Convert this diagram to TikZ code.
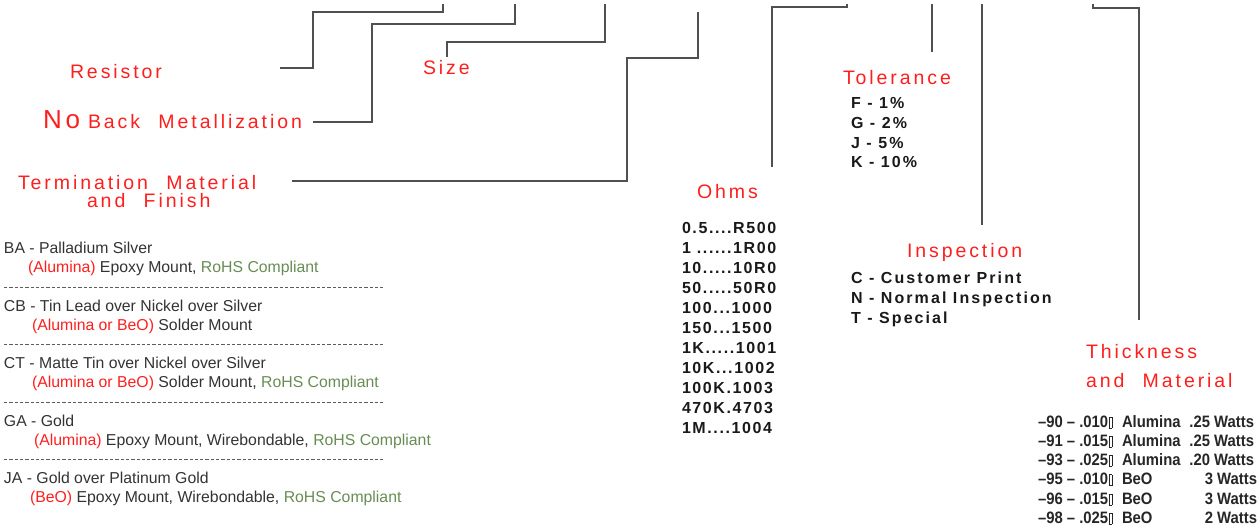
\documentclass[tikz,border=0pt]{standalone}
\usepackage{fontspec}
\setmainfont{Liberation Sans}
\newfontfamily\cadfont[LetterSpace=15, WordSpace=2.2]{Liberation Sans}
\newfontfamily\codefont[LetterSpace=10]{Liberation Sans}
\newfontfamily\widecodefont[LetterSpace=13]{Liberation Sans}
\newfontfamily\narrowfont[FakeStretch=0.9]{Liberation Sans}
\usetikzlibrary{positioning}

\definecolor{labelred}{RGB}{255,30,30}
\definecolor{rohsgreen}{RGB}{104,140,84}
\definecolor{bodygray}{RGB}{51,51,51}
\definecolor{leadgray}{RGB}{80,80,80}
\newcommand{\subst}[1]{\textcolor{labelred}{#1}}
\newcommand{\rohs}{\textcolor{rohsgreen}{RoHS Compliant}}
\newcommand{\nobox}{\kern0.6pt{\fboxsep=0pt\fboxrule=0.5pt\fbox{\rule{2.6pt}{0pt}\rule[-0.5pt]{0pt}{10.5pt}}}}

\begin{document}
\begin{tikzpicture}[
        x=1pt,
        y=-1pt,
        every node/.style={inner sep=0pt, outer sep=0pt, anchor=base west},
        caption/.style={font=\cadfont\fontsize{19.5}{19.5}\selectfont, text=labelred},
        finish/.style={font=\fontsize{15.8}{15.8}\selectfont, text=bodygray},
        code/.style={font=\codefont\bfseries\fontsize{16}{16}\selectfont, text=black!90},
        widecode/.style={font=\widecodefont\bfseries\fontsize{16}{16}\selectfont, text=black!90},
        thickcode/.style={font=\narrowfont\bfseries\fontsize{16.5}{16.5}\selectfont, text=black!85},
        lead/.style={draw=leadgray, line width=1.3pt},
        divider/.style={draw=bodygray!80, dash pattern=on 3.3pt off 2pt, line width=0.9pt}
    ]
    \useasboundingbox (0,0) rectangle (1260,525);

    % red captions
    \node[caption] (resistor) at (70,78) {Resistor};
    \node[caption, font=\cadfont\fontsize{26}{26}\selectfont] (no) at (43,128) {No};
    \node[caption] (backmetal) at (88,128) {Back Metallization};
    \node[caption] (size) at (423,74) {Size};
    \node[caption] (term) at (18,189) {Termination Material};
    \node[caption] (termb) at (87,207) {and Finish};
    \node[caption] (ohms) at (697,198) {Ohms};
    \node[caption] (tol) at (843,84) {Tolerance};
    \node[caption] (insp) at (907,257) {Inspection};
    \node[caption] (thick) at (1086,358) {Thickness};
    \node[caption] (thickb) at (1086,387) {and Material};

    % leader lines
    \coordinate (resFoot) at (280,68);   \coordinate (resTop) at (443,4);
    \coordinate (nbmFoot) at (313,122);  \coordinate (nbmTop) at (515,4);
    \coordinate (sizeFoot) at (447,57);  \coordinate (sizeTop) at (605,4);
    \coordinate (termFoot) at (292,181); \coordinate (termTop) at (698,12);
    \coordinate (ohmsFoot) at (772,167); \coordinate (ohmsTop) at (847,4);
    \coordinate (tolFoot) at (932,52);   \coordinate (tolTop) at (932,4);
    \coordinate (inspFoot) at (982,225); \coordinate (inspTop) at (982,4);
    \coordinate (thFoot) at (1139,320);  \coordinate (thTop) at (1093,4);

    \draw[lead] (resFoot) -| (313,12) -| (resTop);
    \draw[lead] (nbmFoot) -| (372,24) -| (nbmTop);
    \draw[lead] (sizeFoot) |- (605,42) -- (sizeTop);
    \draw[lead] (termFoot) -| (627,58) -| (termTop);
    \draw[lead] (ohmsFoot) |- (847,7) -- (ohmsTop);
    \draw[lead] (tolFoot) -- (tolTop);
    \draw[lead] (inspFoot) -- (inspTop);
    \draw[lead] (thFoot) |- (1093,8) -- (thTop);

    % termination finishes
    \node[finish] (ba) at (4,253) {BA - Palladium Silver};
    \node[finish] (baMount) at (28,272) {\subst{(Alumina)} Epoxy Mount, \rohs};
    \draw[divider] (4,287) -- (383,287);
    \node[finish] (cb) at (4,311) {CB - Tin Lead over Nickel over Silver};
    \node[finish] (cbMount) at (32,330) {\subst{(Alumina or BeO)} Solder Mount};
    \draw[divider] (4,344) -- (383,344);
    \node[finish] (ct) at (4,368) {CT - Matte Tin over Nickel over Silver};
    \node[finish] (ctMount) at (32,387) {\subst{(Alumina or BeO)} Solder Mount, \rohs};
    \draw[divider] (4,402) -- (383,402);
    \node[finish] (ga) at (4,426) {GA - Gold};
    \node[finish] (gaMount) at (34,445) {\subst{(Alumina)} Epoxy Mount, Wirebondable, \rohs};
    \draw[divider] (4,459) -- (383,459);
    \node[finish] (ja) at (4,483) {JA - Gold over Platinum Gold};
    \node[finish] (jaMount) at (30,502) {\subst{(BeO)} Epoxy Mount, Wirebondable, \rohs};

    % ohms codes
    \node[code] (ohm1) at (682,233) {0.5....R500};
    \node[code] (ohm2) at (682,253) {1 ......1R00};
    \node[code] (ohm3) at (682,273) {10.....10R0};
    \node[code] (ohm4) at (682,293) {50.....50R0};
    \node[code] (ohm5) at (682,313) {100...1000};
    \node[code] (ohm6) at (682,333) {150...1500};
    \node[code] (ohm7) at (682,353) {1K.....1001};
    \node[code] (ohm8) at (682,373) {10K...1002};
    \node[code] (ohm9) at (682,393) {100K.1003};
    \node[code] (ohm10) at (682,413) {470K.4703};
    \node[code] (ohm11) at (682,433) {1M....1004};

    % tolerance, inspection codes
    \foreach \val [count=\i] in {F - 1\%, G - 2\%, J - 5\%, K - 10\%}
        \node[widecode] (tol\i) at (851,89+19.7*\i) {\val};
    \foreach \val [count=\i] in {C - Customer Print, N - Normal Inspection, T - Special}
        \node[widecode] (insp\i) at (851,263+20*\i) {\val};

    % thickness and material
    \foreach \dash/\thk/\mat/\watt/\wx [count=\i] in {90/.010/Alumina/.25/1254, 91/.015/Alumina/.25/1254,
        93/.025/Alumina/.20/1254, 95/.010/BeO/3/1257, 96/.015/BeO/3/1257, 98/.025/BeO/2/1257}
    {
        \node[thickcode] (th\i) at (1038,408+19.2*\i) {–\dash{} – \thk\nobox};
        \node[thickcode] (mat\i) at (1122,408+19.2*\i) {\mat};
        \node[thickcode, anchor=base east] (watt\i) at (\wx,408+19.2*\i) {\watt{} Watts};
    }
\end{tikzpicture}
\end{document}
